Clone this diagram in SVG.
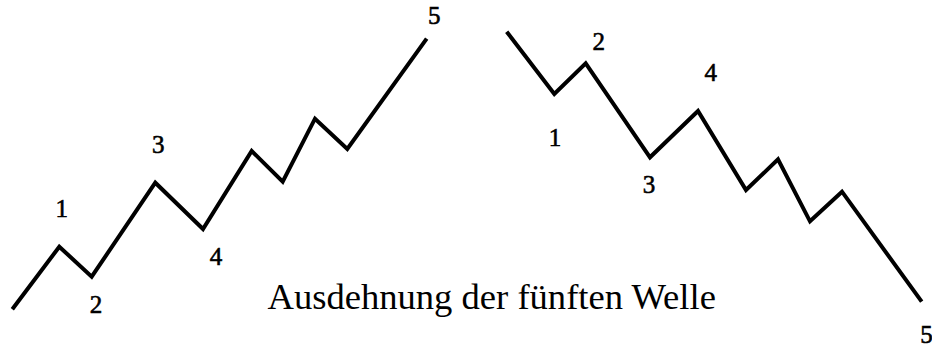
<svg xmlns="http://www.w3.org/2000/svg" width="932" height="347" viewBox="0 0 932 347">
<style>
.w{fill:none;stroke:#000;stroke-width:4;stroke-linejoin:miter;stroke-linecap:butt}
.n{font-family:"Liberation Serif","Times New Roman",serif;font-size:25px;fill:#000;stroke:#000;stroke-width:0.6;text-anchor:middle}
.t{font-family:"Liberation Serif","Times New Roman",serif;font-size:36.6px;fill:#000}
</style>
<rect width="932" height="347" fill="#fff"/>
<g id="connectors">
<polyline id="up" class="w" points="12.3,309.3 59.3,246.7 91.7,276.7 155.3,182.7 203,229 251.7,151 282.7,181.7 315,118.7 347.3,149 426.7,38.7"/>
<polyline id="down" class="w" points="506.7,31.7 554.3,94 585.7,63.3 650,157.3 698,111 746,190 778,159.3 810,221.3 842,191.7 921.7,301.7"/>
</g>
<g id="labels-up">
<text class="n" x="61.7" y="216.7">1</text>
<text class="n" x="96" y="312.7">2</text>
<text class="n" x="158.3" y="152.7">3</text>
<text class="n" x="216" y="265">4</text>
<text class="n" x="434.3" y="24">5</text>
</g>
<g id="labels-down">
<text class="n" x="555" y="145.7">1</text>
<text class="n" x="598.7" y="50">2</text>
<text class="n" x="649" y="192.7">3</text>
<text class="n" x="710.7" y="81">4</text>
<text class="n" x="926.5" y="342.5">5</text>
</g>
<g id="title">
<text class="t" x="267.5" y="309">Ausdehnung der fünften Welle</text>
</g>
</svg>
